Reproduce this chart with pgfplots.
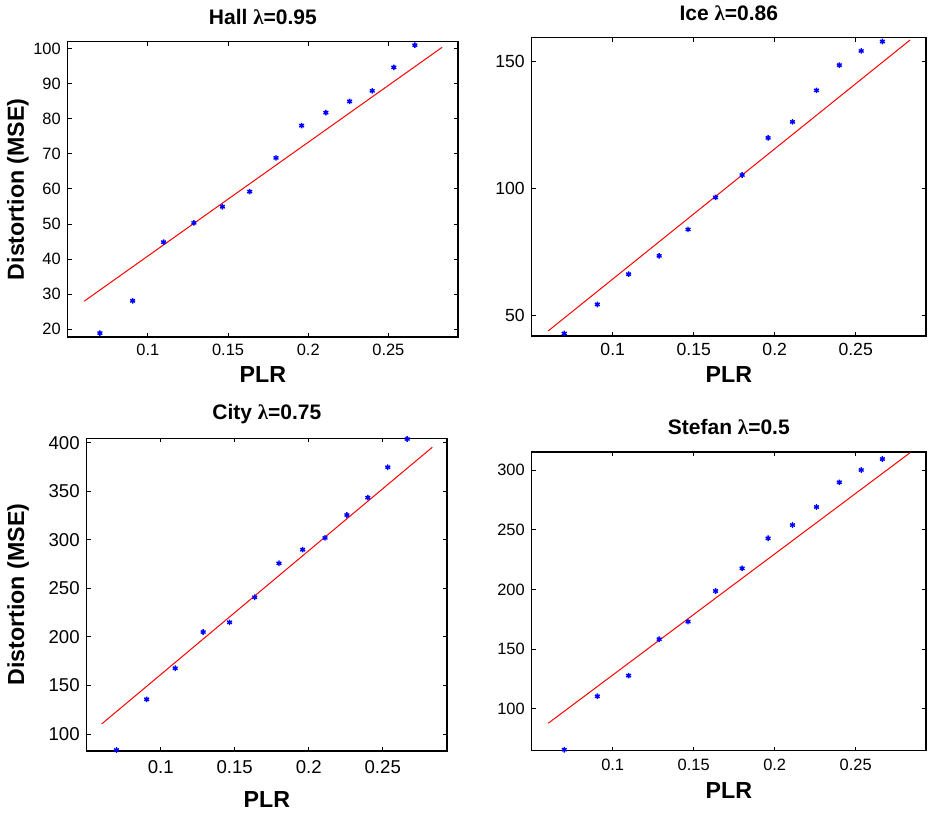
\documentclass[border=0pt]{standalone}
\usepackage{fontspec}
\setmainfont{Liberation Sans}
\newfontfamily\greekfont{Liberation Serif}
\usepackage{pgfplots}
\pgfplotsset{compat=1.18}

% common look of the four PLR / distortion panels
\pgfplotsset{
  every axis title shift=0pt,
  plrpanel/.style={
    scale only axis,
    anchor=south west,
    xmin=0.05, xmax=0.2934,
    xtick={0.1,0.15,0.2,0.25},
    xticklabels={0.1,0.15,0.2,0.25},
    scaled ticks=false,
    tick align=inside,
    major tick length=2pt,
    axis line style={line width=0.6pt},
    every tick/.style={black, line width=0.4pt},
    /pgf/number format/assume math mode=true,
    title style={anchor=base, font=\fontsize{10.5}{12}\selectfont\bfseries},
    xlabel={PLR},
    xlabel style={anchor=base, font=\fontsize{11.6}{13}\selectfont\bfseries},
    ylabel style={anchor=base, font=\fontsize{11.6}{13}\selectfont\bfseries},
    xticklabel style={anchor=base},
    clip=false,
  },
  pts/.style={only marks, mark=asterisk, mark size=1.4pt, blue, mark options={line width=0.7pt}},
  fit/.style={red, line width=0.5pt, no marks},
}

% PLR values shared by all sequences
\pgfplotstableread{
plr     hall   ice    city   stefan
0.0701  18.9   42.9   83.5   65.6
0.0905  28.1   54.3  135.7  110.4
0.1098  44.8   66.2  167.7  127.7
0.1287  50.3   73.4  205.0  158.2
0.1465  54.9   83.8  215.0  172.9
0.1635  59.2   96.4  240.8  198.6
0.1799  68.8  105.2  275.8  217.6
0.1959  78.0  119.8  289.8  242.8
0.2110  81.7  126.1  301.9  253.9
0.2258  84.9  138.5  325.5  269.0
0.2399  87.9  148.4  343.4  289.7
0.2534  94.6  154.0  374.7  300.0
0.2665 100.9  157.7  403.8  309.2
}\distortion

\begin{document}
\begin{tikzpicture}
\useasboundingbox (0,0) rectangle (464pt,407pt);

% Hall
\begin{axis}[plrpanel,
  at={(33.85pt,238.5pt)}, width=195.15pt, height=147.65pt,
  ymin=17.8, ymax=101.9, ytick={20,30,...,100},
  tick label style={font=\fontsize{8.2}{9}\selectfont},
  xticklabel style={yshift=-9.5pt},
  title={Hall {\greekfont λ}=0.95},
  title style={at={(axis description cs:0.5,1.0576)}},
  xlabel style={at={(axis description cs:0.5,-0.1548)}},
  ylabel={Distortion (MSE)},
  ylabel style={at={(axis description cs:-0.112,0.5)}},
]
\addplot[pts] table[x=plr, y=hall] {\distortion};
\addplot[fit] coordinates {(0.0603,28.0) (0.2835,100.3)};
\end{axis}

% Ice
\begin{axis}[plrpanel,
  at={(265.85pt,239pt)}, width=197.15pt, height=149.15pt,
  ymin=41.9, ymax=159.2, ytick={50,100,150},
  tick label style={font=\fontsize{8.8}{10}\selectfont},
  xticklabel style={yshift=-10pt},
  title={Ice {\greekfont λ}=0.86},
  title style={at={(axis description cs:0.5,1.057)}},
  xlabel style={at={(axis description cs:0.5,-0.1566)}},
]
\addplot[pts] table[x=plr, y=ice] {\distortion};
\addplot[fit] coordinates {(0.0602,43.9) (0.2836,158.3)};
\end{axis}

% City
\begin{axis}[plrpanel,
  at={(43.35pt,31.5pt)}, width=180.15pt, height=156.35pt,
  ymin=82.5, ymax=404.5, ytick={100,150,...,400},
  tick label style={font=\fontsize{9.3}{10}\selectfont},
  xticklabel style={yshift=-11.5pt},
  title={City {\greekfont λ}=0.75},
  title style={at={(axis description cs:0.5,1.0585)}},
  xlabel style={at={(axis description cs:0.5,-0.18)}},
  ylabel={Distortion (MSE)},
  ylabel style={at={(axis description cs:-0.174,0.5)}},
]
\addplot[pts] table[x=plr, y=city] {\distortion};
\addplot[fit] coordinates {(0.0601,110.3) (0.2835,395.3)};
\end{axis}

% Stefan
\begin{axis}[plrpanel,
  at={(265.85pt,31.65pt)}, width=197.15pt, height=149.35pt,
  ymin=64.8, ymax=315.1, ytick={100,150,...,300},
  tick label style={font=\fontsize{8.2}{9}\selectfont},
  xticklabel style={yshift=-9.7pt},
  title={Stefan {\greekfont λ}=0.5},
  title style={at={(axis description cs:0.5,1.057)}},
  xlabel style={at={(axis description cs:0.5,-0.159)}},
]
\addplot[pts] table[x=plr, y=stefan] {\distortion};
\addplot[fit] coordinates {(0.0602,87.8) (0.2836,314.5)};
\end{axis}
\end{tikzpicture}
\end{document}
